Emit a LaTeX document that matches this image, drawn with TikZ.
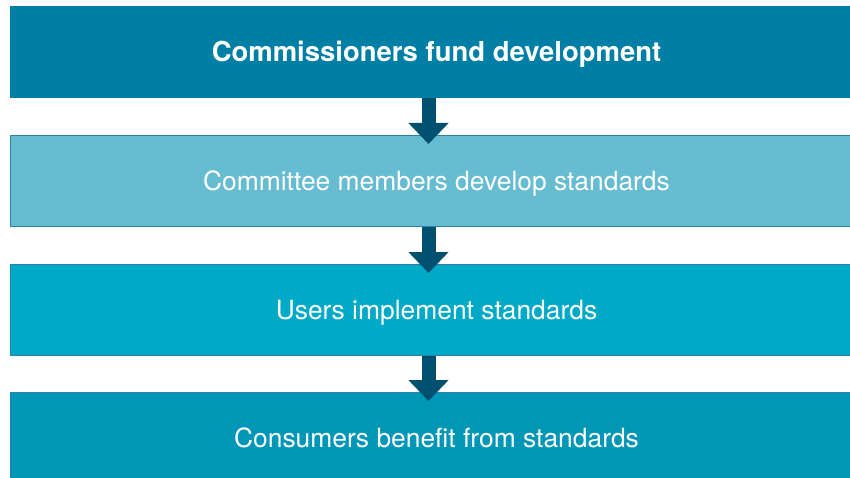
\documentclass[tikz,border=0pt]{standalone}
\usepackage{fontspec}
\setmainfont{TeX Gyre Heros}
\usetikzlibrary{arrows.meta,positioning}

\definecolor{fundblue}{RGB}{0,127,166}
\definecolor{devblue}{RGB}{102,189,210}
\definecolor{useblue}{RGB}{0,169,198}
\definecolor{benblue}{RGB}{0,150,182}
\definecolor{flowblue}{RGB}{0,80,112}
\definecolor{edgeblue}{RGB}{40,130,165}

\begin{document}
\begin{tikzpicture}[x=0.75pt,y=-0.75pt,
  stage/.style={draw=edgeblue,line width=0.75pt,anchor=north west,
    minimum width=639pt,minimum height=68.25pt,inner sep=0pt,
    text height=14.3pt,text depth=0pt,
    text=white,font=\fontsize{19.8}{22}\selectfont},
  flow/.style={draw=flowblue,line width=10.5pt,
    -{Triangle[width=29.25pt,length=15.75pt]},shorten >=-6.75pt}]
  \useasboundingbox (0,0) rectangle (850,478);
  \node[stage,fill=fundblue,draw=fundblue,text height=14.8pt,font=\fontsize{20.6}{22}\selectfont\bfseries] (fund) at (10,6) {Commissioners fund development};
  \node[stage,fill=devblue] (develop) at (10,135) {Committee members develop standards};
  \node[stage,fill=useblue] (implement) at (10,264) {Users implement standards};
  \node[stage,fill=benblue,minimum height=80pt,text depth=11.8pt] (benefit) at (10,392) {Consumers benefit from standards};
  % arrows between the stages
  \draw[flow] ([xshift=-6pt]fund.south) -- ([xshift=-6pt]develop.north);
  \draw[flow] ([xshift=-6pt]develop.south) -- ([xshift=-6pt]implement.north);
  \draw[flow] ([xshift=-6pt]implement.south) -- ([xshift=-6pt]benefit.north);
\end{tikzpicture}
\end{document}
